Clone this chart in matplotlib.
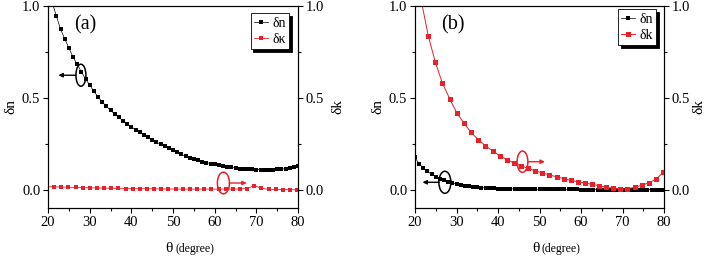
import matplotlib
matplotlib.use("Agg")
from matplotlib import pyplot as plt
from matplotlib.patches import Ellipse
from matplotlib.ticker import MultipleLocator

plt.rcParams['font.family'] = ['Liberation Serif', 'DejaVu Serif']
plt.rcParams['font.size'] = 10.5

RED = '#e8202a'

# panel (a) data
theta_a_n = list(range(21, 81))
dn_a = [1.02, 0.946, 0.875, 0.822, 0.772, 0.722, 0.683, 0.642, 0.603, 0.570,
        0.536, 0.505, 0.478, 0.453, 0.432, 0.412, 0.393, 0.375, 0.358, 0.342,
        0.327, 0.312, 0.298, 0.284, 0.271, 0.259, 0.247, 0.236, 0.225, 0.214,
        0.203, 0.192, 0.182, 0.174, 0.167, 0.160, 0.153, 0.147, 0.142, 0.137,
        0.132, 0.128, 0.124, 0.121, 0.118, 0.115, 0.113, 0.111, 0.110, 0.109,
        0.108, 0.107, 0.107, 0.108, 0.110, 0.112, 0.114, 0.117, 0.121, 0.126]

theta_k = [19.8, 21.5, 23.2, 24.9, 26.6, 28.4, 30.1, 31.8, 33.5, 35.2, 36.9, 38.7,
           40.4, 42.1, 43.8, 45.5, 47.2, 48.9, 50.7, 52.4, 54.1, 55.8, 57.5, 59.2,
           61.0, 62.7, 64.4, 66.1, 67.8, 69.5, 71.2, 73.0, 74.7, 76.4, 78.1, 79.8]
dk_a = [0.016, 0.015, 0.014, 0.013, 0.012, 0.011, 0.010, 0.009, 0.008, 0.008,
        0.007, 0.006, 0.006, 0.005, 0.005, 0.004, 0.004, 0.004, 0.003, 0.003,
        0.003, 0.003, 0.003, 0.003, 0.003, 0.003, 0.003, 0.004, 0.006, 0.022,
        0.007, 0.002, 0.001, 0.0, 0.0, -0.001]

# panel (b) data
theta_b_n = list(range(20, 81))
dn_b = [0.176, 0.140, 0.118, 0.099, 0.084, 0.071, 0.060, 0.051, 0.043, 0.036,
        0.030, 0.025, 0.021, 0.018, 0.015, 0.013, 0.011, 0.009, 0.008, 0.007,
        0.006, 0.005, 0.005, 0.004, 0.004, 0.003, 0.003, 0.003, 0.002, 0.002,
        0.002, 0.002, 0.001, 0.001, 0.001, 0.001, 0.001, 0.001, 0.001, 0.001,
        0.0, 0.0, 0.0, 0.0, 0.0, 0.0, 0.0, 0.0, 0.0, 0.0,
        0.0, 0.0, 0.0, 0.0, 0.0, 0.0, 0.0, 0.0, 0.0, 0.0, 0.0]
dk_b = [1.25, 1.03, 0.837, 0.694, 0.580, 0.493, 0.417, 0.362, 0.312, 0.273,
        0.240, 0.211, 0.185, 0.164, 0.146, 0.130, 0.116, 0.103, 0.091, 0.080,
        0.070, 0.060, 0.051, 0.043, 0.036, 0.029, 0.021, 0.013, 0.008, 0.004,
        0.005, 0.013, 0.024, 0.038, 0.057, 0.094]

fig = plt.figure(figsize=(7.08, 2.56), dpi=100)
W, H = 708.0, 256.0


def setup(ax, ax2, rpad):
    for a in (ax, ax2):
        a.set_xlim(20, 80)
        a.set_ylim(-0.1, 1.0)
        a.yaxis.set_major_locator(MultipleLocator(0.5))
        a.yaxis.set_minor_locator(MultipleLocator(0.25))
        a.xaxis.set_major_locator(MultipleLocator(10))
        a.xaxis.set_minor_locator(MultipleLocator(5))
        a.tick_params(which='major', direction='out', length=3.5, width=0.8,
                      labelsize=10.5, pad=2)
        a.tick_params(which='minor', direction='out', length=2, width=0.8)
        a.yaxis.set_major_formatter(matplotlib.ticker.FormatStrFormatter('%.1f'))
        for s in a.spines.values():
            s.set_linewidth(0.8)
    ax.set_ylabel('δn', fontsize=11, labelpad=3)
    ax2.set_ylabel('δk', fontsize=11, labelpad=rpad)
    ax.text(0.5, -0.2, 'θ', transform=ax.transAxes, ha='right', va='center', fontsize=11)
    ax.text(0.51, -0.205, '(degree)', transform=ax.transAxes, ha='left', va='center',
            fontsize=8.5)


def ellipse_arrow(ax, cx, cy, w, h, x0, x1, color):
    ax.add_patch(Ellipse((cx, cy), w, h, fill=False, edgecolor=color, lw=1.1, zorder=5))
    ax.annotate('', xy=(x1, cy), xytext=(x0, cy),
                arrowprops=dict(arrowstyle='-|>', color=color, lw=1.0, mutation_scale=6,
                                shrinkA=0, shrinkB=0), zorder=5)


def add_legend(ax, handles, labels, anchor):
    leg = ax.legend(handles, labels, loc='upper left', bbox_to_anchor=anchor,
                    fontsize=10, frameon=True, fancybox=False, edgecolor='black',
                    framealpha=1, handlelength=1.0, handletextpad=0.3, borderpad=0.25,
                    labelspacing=0.25, borderaxespad=0,
                    shadow={'color': 'black', 'alpha': 1})
    leg.get_frame().set_linewidth(0.6)


# panel (a)
ax = fig.add_axes([48 / W, 48 / H, 250 / W, 202 / H])
ax2 = ax.twinx()
l1, = ax.plot(theta_a_n, dn_a, '-s', color='black', lw=0.5, ms=3.4, mew=0)
l2, = ax2.plot(theta_k, dk_a, '-s', color=RED, lw=0.6, ms=3.2, mew=0)
setup(ax, ax2, 5)
ax.text(26.3, 0.895, '(a)', fontsize=14.5, va='center')
ellipse_arrow(ax2, 27.9, 0.623, 2.4, 0.12, 26.7, 22.5, 'black')
ellipse_arrow(ax2, 62.1, 0.036, 2.9, 0.118, 63.5, 67.7, RED)
add_legend(ax2, [l1, l2], ['δn', 'δκ'], (0.81, 0.965))

# panel (b)
bx = fig.add_axes([415 / W, 48 / H, 249 / W, 202 / H])
bx2 = bx.twinx()
m1, = bx.plot(theta_b_n, dn_b, '-s', color='black', lw=0.5, ms=3.4, mew=0)
m2, = bx2.plot(theta_k, dk_b, '-s', color=RED, lw=0.7, ms=3.6, mew=0)
setup(bx, bx2, 1.5)
bx.text(26.2, 0.895, '(b)', fontsize=14.5, va='center')
ellipse_arrow(bx2, 27.2, 0.04, 2.9, 0.12, 25.8, 21.8, 'black')
ellipse_arrow(bx2, 45.9, 0.152, 2.6, 0.116, 47.2, 51.3, RED)
add_legend(bx2, [m1, m2], ['δn', 'δk'], (0.815, 0.985))

fig.savefig('out.png', dpi=100)
plt.close('all')
